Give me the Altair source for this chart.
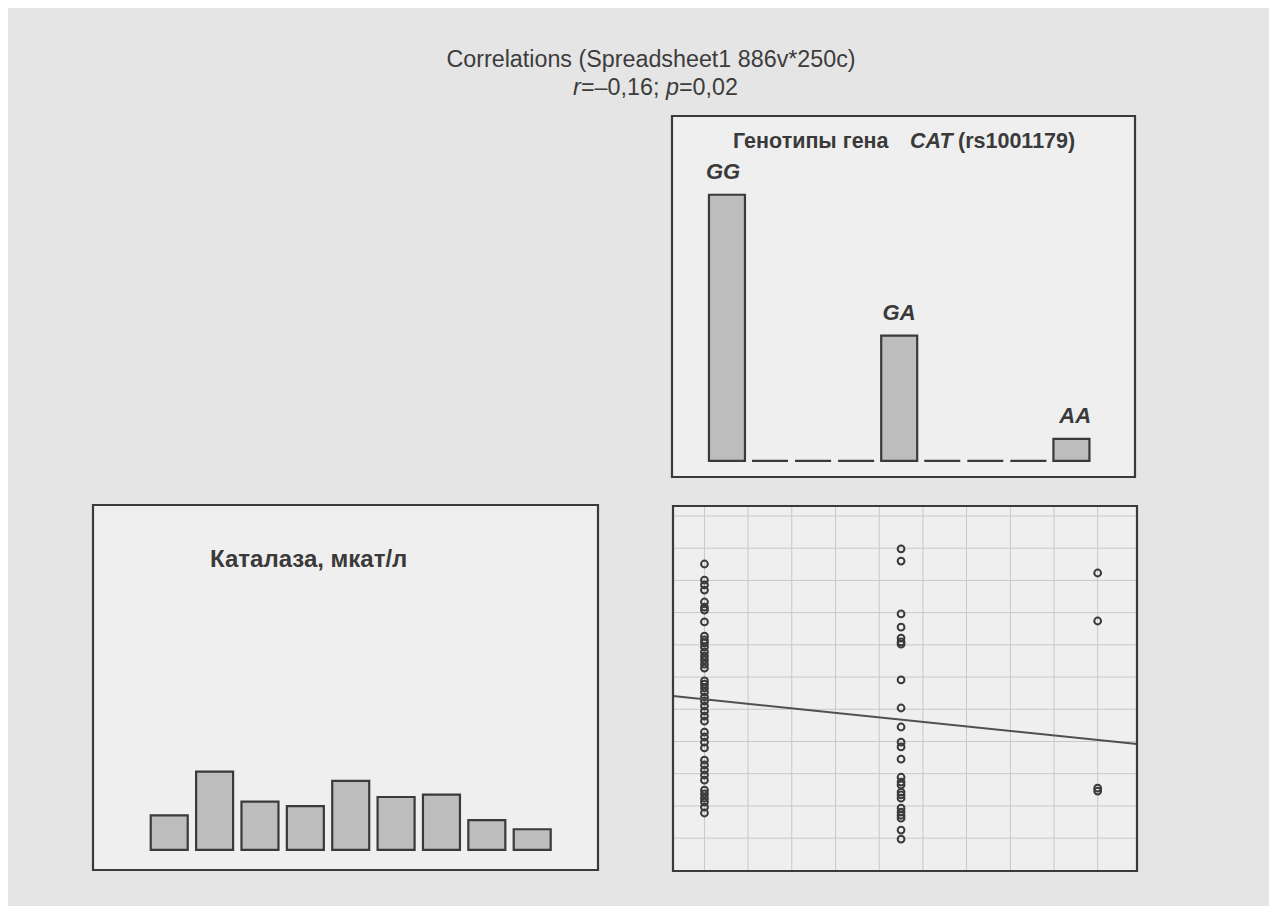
import altair as alt
import pandas as pd

# ---------------- data ----------------
genotype_labels = ["GG", "", "", "", "GA", "", "", "", "AA"]
genotype_counts = [121, 0, 0, 0, 57, 0, 0, 0, 10]

catalase_counts = [15, 34, 21, 19, 30, 23, 24, 13, 9]

# scatter: catalase (grid units) by genotype column (GG=0, GA=1, AA=2)
gg_y = [8.51, 8.01, 7.86, 7.70, 7.33, 7.17, 7.08, 6.71, 6.27, 6.15, 6.06, 5.93,
        5.78, 5.65, 5.53, 5.40, 5.28, 4.88, 4.78, 4.66, 4.53, 4.38, 4.25, 4.10,
        3.94, 3.79, 3.63, 3.29, 3.14, 2.98, 2.80, 2.42, 2.27, 2.11, 1.96, 1.80,
        1.49, 1.37, 1.24, 1.12, 0.96, 0.78]
ga_y = [8.98, 8.60, 6.96, 6.55, 6.21, 6.09, 6.02, 4.91, 4.04, 3.45, 2.98, 2.83,
        2.45, 1.89, 1.74, 1.65, 1.43, 1.34, 1.24, 0.93, 0.81, 0.71, 0.62, 0.25,
        -0.03]
aa_y = [8.23, 6.74, 1.55, 1.46]

grid_x = [0.0, 0.222, 0.444, 0.667, 0.889, 1.111, 1.333, 1.556, 1.778, 2.0]
grid_y = [0, 1, 2, 3, 4, 5, 6, 7, 8, 9, 10]

fit_x = [-0.16, 2.2]
fit_y = [4.41, 2.92]

# panel axis limits (data units)
hist_xlim = [-1.16, 9.36]
hist_ylim = [-7.3, 156.8]
scat_xlim = [-0.16, 2.2]
scat_ylim = [-1.02, 10.31]
cat_xlim = [-1.57, 9.34]
cat_ylim = [-8.7, 149.8]

# ---------------- layout / style ----------------
W, H = 1261, 898
HIST_RX, HIST_RY = [664, 1127], [469, 108]
SCAT_RX, SCAT_RY = [665, 1129], [863, 498]
CAT_RX, CAT_RY = [85, 590], [862, 497]

BG = "#e5e5e5"
PANEL = "#efefef"
DARK = "#3a3a3a"
BARFILL = "#bdbdbd"
GRID = "#c8c8c8"
FONT = "Liberation Sans"


def sx(lim, rng):
    return alt.Scale(domain=lim, range=rng, zero=False, nice=False)


def frame_layer(xlim, ylim, rx, ry, filled):
    df = pd.DataFrame({"x0": [xlim[0]], "x1": [xlim[1]], "y0": [ylim[0]], "y1": [ylim[1]]})
    if filled:
        mk = alt.Chart(df).mark_rect(fill=PANEL, strokeWidth=0)
    else:
        mk = alt.Chart(df).mark_rect(fillOpacity=0, stroke=DARK, strokeWidth=2.2)
    return mk.encode(
        x=alt.X("x0:Q", scale=sx(xlim, rx), axis=None),
        x2="x1:Q",
        y=alt.Y("y0:Q", scale=sx(ylim, ry), axis=None),
        y2="y1:Q",
    )


layers = []
# frame fills
layers.append(frame_layer(hist_xlim, hist_ylim, HIST_RX, HIST_RY, True))
layers.append(frame_layer(scat_xlim, scat_ylim, SCAT_RX, SCAT_RY, True))
layers.append(frame_layer(cat_xlim, cat_ylim, CAT_RX, CAT_RY, True))

# scatter grid
gv = pd.DataFrame({"gx": grid_x, "ylo": scat_ylim[0], "yhi": scat_ylim[1]})
layers.append(alt.Chart(gv).mark_rule(color=GRID, strokeWidth=1).encode(
    x=alt.X("gx:Q", scale=sx(scat_xlim, SCAT_RX), axis=None),
    y=alt.Y("ylo:Q", scale=sx(scat_ylim, SCAT_RY), axis=None),
    y2="yhi:Q"))
gh = pd.DataFrame({"gy": grid_y, "xlo": scat_xlim[0], "xhi": scat_xlim[1]})
layers.append(alt.Chart(gh).mark_rule(color=GRID, strokeWidth=1).encode(
    y=alt.Y("gy:Q", scale=sx(scat_ylim, SCAT_RY), axis=None),
    x=alt.X("xlo:Q", scale=sx(scat_xlim, SCAT_RX), axis=None),
    x2="xhi:Q"))

# genotype histogram
hdf = pd.DataFrame({"i": list(range(len(genotype_counts))), "n": genotype_counts,
                    "lab": genotype_labels, "base": 0})
layers.append(alt.Chart(hdf).mark_bar(size=36, orient="vertical", fill=BARFILL,
                                      stroke=DARK, strokeWidth=2.2).encode(
    x=alt.X("i:Q", scale=sx(hist_xlim, HIST_RX), axis=None),
    y=alt.Y("n:Q", scale=sx(hist_ylim, HIST_RY), axis=None),
    y2="base:Q"))
layers.append(alt.Chart(hdf[hdf["n"] > 0]).mark_text(
    font=FONT, fontSize=22, fontWeight="bold", fontStyle="italic", color=DARK,
    baseline="alphabetic", dy=-16).encode(
    x=alt.X("i:Q", scale=sx(hist_xlim, HIST_RX), axis=None),
    y=alt.Y("n:Q", scale=sx(hist_ylim, HIST_RY), axis=None),
    text="lab:N"))

# catalase histogram
cdf = pd.DataFrame({"i": list(range(len(catalase_counts))), "n": catalase_counts, "base": 0})
layers.append(alt.Chart(cdf).mark_bar(size=37, orient="vertical", fill=BARFILL,
                                      stroke=DARK, strokeWidth=2.2).encode(
    x=alt.X("i:Q", scale=sx(cat_xlim, CAT_RX), axis=None),
    y=alt.Y("n:Q", scale=sx(cat_ylim, CAT_RY), axis=None),
    y2="base:Q"))

# scatter points
pts = pd.DataFrame({
    "g": [0] * len(gg_y) + [1] * len(ga_y) + [2] * len(aa_y),
    "v": gg_y + ga_y + aa_y,
})
layers.append(alt.Chart(pts).mark_point(shape="circle", filled=False, size=46,
                                        strokeWidth=2, color=DARK, opacity=1).encode(
    x=alt.X("g:Q", scale=sx(scat_xlim, SCAT_RX), axis=None),
    y=alt.Y("v:Q", scale=sx(scat_ylim, SCAT_RY), axis=None)))

# regression line
fdf = pd.DataFrame({"fx": fit_x, "fy": fit_y})
layers.append(alt.Chart(fdf).mark_line(color="#505050", strokeWidth=2).encode(
    x=alt.X("fx:Q", scale=sx(scat_xlim, SCAT_RX), axis=None),
    y=alt.Y("fy:Q", scale=sx(scat_ylim, SCAT_RY), axis=None)))

# frame strokes on top
layers.append(frame_layer(hist_xlim, hist_ylim, HIST_RX, HIST_RY, False))
layers.append(frame_layer(scat_xlim, scat_ylim, SCAT_RX, SCAT_RY, False))
layers.append(frame_layer(cat_xlim, cat_ylim, CAT_RX, CAT_RY, False))


def text_layer(t, x, y, size, weight="normal", style="normal", align="left", color=DARK):
    return alt.Chart(pd.DataFrame({"t": [t]})).mark_text(
        font=FONT, fontSize=size, fontWeight=weight, fontStyle=style,
        align=align, baseline="alphabetic", color=color).encode(
        x=alt.value(x), y=alt.value(y), text="t:N")


TITLE_C = "#3c3c3c"
layers.append(text_layer("Correlations (Spreadsheet1 886v*250c)", 643, 59, 23.3,
                         align="center", color=TITLE_C))
layers.append(text_layer("r", 565, 87, 23.3, style="italic", color=TITLE_C))
layers.append(text_layer("=\u20130,16; ", 573, 87, 23.3, color=TITLE_C))
layers.append(text_layer("p", 658, 87, 23.3, style="italic", color=TITLE_C))
layers.append(text_layer("=0,02", 671, 87, 23.3, color=TITLE_C))

layers.append(text_layer("Генотипы гена", 725, 140, 21.5, weight="bold"))
layers.append(text_layer("CAT", 902, 140, 21.5, weight="bold", style="italic"))
layers.append(text_layer("(rs1001179)", 950, 140, 21.5, weight="bold"))

layers.append(text_layer("Каталаза, мкат/л", 202, 559, 24, weight="bold"))

chart = alt.layer(*layers).resolve_scale(x="independent", y="independent").properties(
    width=W, height=H, padding=0, autosize="none", background=BG
).configure_view(strokeWidth=0)

chart.save("out.html", embed_options={"renderer": "svg", "actions": False})
